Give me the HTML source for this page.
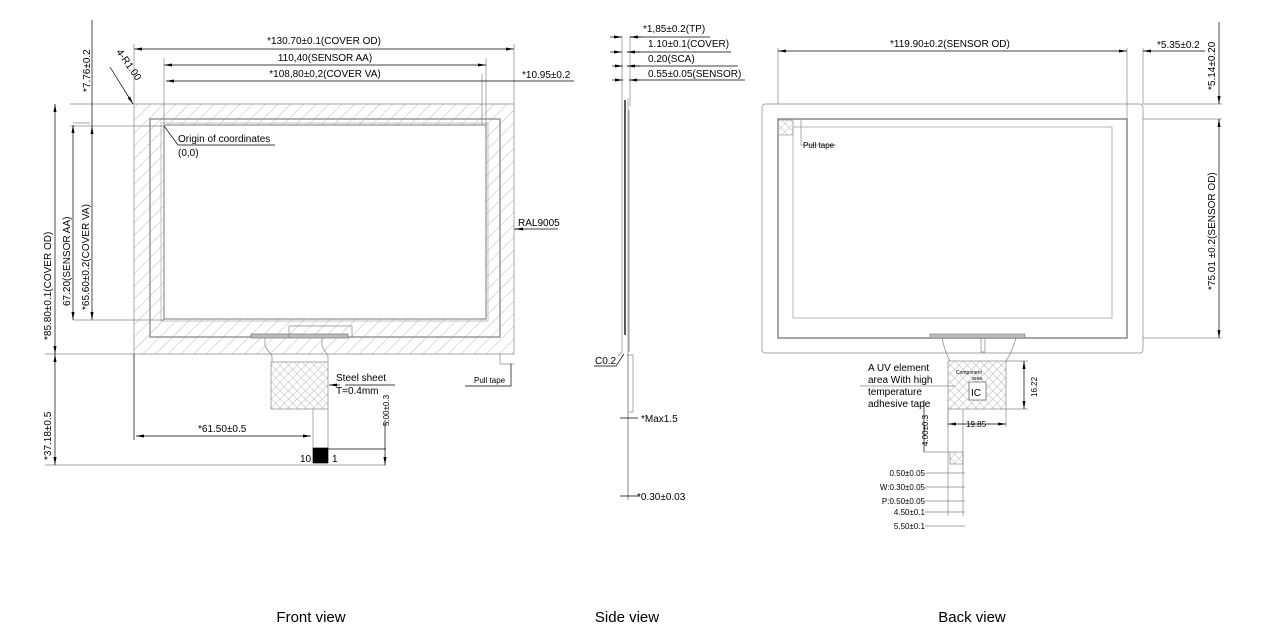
<!DOCTYPE html>
<html><head><meta charset="utf-8"><style>
html,body{margin:0;padding:0;background:#fff;}
svg{display:block;font-family:"Liberation Sans",Arial,sans-serif;}
</style></head><body>
<svg width="1281" height="644" viewBox="0 0 1281 644" xmlns="http://www.w3.org/2000/svg">
<defs>
<pattern id="hatch" width="9" height="9" patternUnits="userSpaceOnUse" patternTransform="rotate(45)">
<line x1="0" y1="0" x2="0" y2="9" stroke="#aaa" stroke-width="0.8"/></pattern>
<pattern id="xh" width="6" height="6" patternUnits="userSpaceOnUse" patternTransform="rotate(45)">
<line x1="0" y1="0" x2="0" y2="6" stroke="#999" stroke-width="0.7"/><line x1="0" y1="0" x2="6" y2="0" stroke="#999" stroke-width="0.7"/></pattern>
<marker id="a" markerWidth="8" markerHeight="6" refX="8" refY="3" orient="auto-start-reverse" markerUnits="userSpaceOnUse"><path d="M0,1.5 L8,3 L0,4.5z" fill="#000"/></marker>
</defs>
<g stroke="#000" stroke-width="0.7" fill="none">
<path d="M134,104 H514 V354 H134 Z M164,125 V319 H486 V125 Z" fill="url(#hatch)" fill-rule="evenodd" stroke="#888"/>
<rect x="150" y="119" width="350" height="218" stroke="#999" stroke-width="1.5"/>
<rect x="161" y="123" width="327" height="198" stroke="#aaa"/>
<rect x="164" y="125" width="322" height="194" stroke="#666"/>
<rect x="251" y="334" width="97" height="4" fill="#bbb" stroke="#777"/>
<path d="M265,338 V346 L272,356 V362 M322,338 V346 L328,356 V362 M289,338 V326 H352 V338" stroke="#888"/>
<path d="M500,354 V364 H514" stroke="#888"/>
<rect x="271" y="362" width="57" height="47" fill="url(#xh)" stroke="#888"/>
<path d="M313,409 V448 M328,409 V448" stroke="#888"/>
<rect x="313" y="448" width="15" height="15" fill="#000"/>
<path d="M134,104 V44 M514,104 V44 M164,125 V58 M486,125 V58 M482,125 V74 M514,74 V78" stroke="#888"/>
<line x1="134" y1="49" x2="514" y2="49" marker-start="url(#a)" marker-end="url(#a)"/>
<line x1="164" y1="65" x2="486" y2="65" marker-start="url(#a)" marker-end="url(#a)"/>
<line x1="166" y1="81" x2="482" y2="81" marker-start="url(#a)"/>
<line x1="482" y1="81" x2="574" y2="81"/>
<path d="M70,104 H134 M70,126 H164 M45,354 H134 M45,465 H386" stroke="#888"/>
<line x1="55" y1="104" x2="55" y2="354" marker-start="url(#a)" marker-end="url(#a)"/>
<line x1="73" y1="125" x2="73" y2="320" marker-start="url(#a)" marker-end="url(#a)"/>
<line x1="92" y1="126" x2="92" y2="320" marker-start="url(#a)" marker-end="url(#a)"/>
<path d="M73,320 H164 M73,123 H90" stroke="#888"/>
<line x1="92" y1="20" x2="92" y2="126"/>
<line x1="55" y1="354" x2="55" y2="465" marker-start="url(#a)" marker-end="url(#a)"/>
<line x1="134" y1="354" x2="134" y2="440"/>
<line x1="136" y1="436" x2="311" y2="436" marker-start="url(#a)" marker-end="url(#a)"/>
<line x1="385" y1="420" x2="385" y2="465" marker-end="url(#a)"/>
<path d="M328,449 H386"/>
<line x1="110" y1="67" x2="133" y2="104" marker-end="url(#a)"/>
<path d="M164,126 L178,145 H275"/>
<path d="M514,229 H558" /><line x1="521" y1="229" x2="515" y2="229" marker-end="url(#a)"/>
<path d="M345,385 H395"/><line x1="340" y1="385" x2="329" y2="385" marker-end="url(#a)"/>
<path d="M511,364 V386 H465"/>
<path d="M622,36 V106 M630,36 V106" stroke="#888"/>
<line x1="610" y1="37" x2="622" y2="37" marker-end="url(#a)"/><line x1="642" y1="37" x2="630" y2="37" marker-end="url(#a)"/><path d="M630,37 H710"/>
<line x1="610" y1="52" x2="622" y2="52" marker-end="url(#a)"/><line x1="640" y1="52" x2="627" y2="52" marker-end="url(#a)"/><path d="M627,52 H731"/>
<line x1="612" y1="66" x2="623" y2="66" marker-end="url(#a)"/><line x1="640" y1="66" x2="627" y2="66" marker-end="url(#a)"/><path d="M627,66 H738"/>
<line x1="612" y1="80" x2="623" y2="80" marker-end="url(#a)"/><line x1="640" y1="80" x2="629" y2="80" marker-end="url(#a)"/><path d="M629,80 H745"/>
<path d="M622,105 V352 L618,356" stroke="#888"/>
<line x1="625" y1="100" x2="625" y2="335" stroke-width="1.3"/>
<line x1="628" y1="98" x2="628" y2="355" stroke="#888"/>
<line x1="629" y1="110" x2="629" y2="352" stroke="#666"/>
<path d="M627,355 H633 V412 H629" stroke="#888"/>
<line x1="628" y1="355" x2="628" y2="500" stroke="#555"/>
<path d="M594,366 H616 L624,354"/>
<path d="M620,418 H638"/><path d="M620,496 H640"/>
<rect x="762" y="104" width="381" height="249" rx="3" stroke="#888"/>
<rect x="778" y="119" width="349" height="219" stroke="#888" stroke-width="1.5"/>
<rect x="793" y="127" width="319" height="191" stroke="#999"/>
<rect x="778" y="120" width="15" height="15" fill="url(#xh)" stroke="#999"/>
<path d="M801,120 V145 H836" stroke="#888"/>
<rect x="930" y="334" width="95" height="4" fill="#bbb" stroke="#888"/>
<path d="M942,338 Q945,352 950,361 M1016,338 Q1012,352 1006,361 M981,338 V352 H985 V338" stroke="#888"/>
<rect x="948" y="361" width="58" height="48" fill="url(#xh)" stroke="#888"/>
<rect x="969" y="382" width="17" height="18" fill="#fff" stroke="#555"/>
<path d="M948,409 V516 M963,409 V516" stroke="#888"/>
<rect x="950" y="452" width="13" height="12" fill="url(#xh)" stroke="#888"/>
<path d="M778,104 V48 M1127,119 V48 M1143,104 V48" stroke="#888"/>
<line x1="778" y1="51" x2="1127" y2="51" marker-start="url(#a)" marker-end="url(#a)"/>
<line x1="1158" y1="51" x2="1143" y2="51" marker-end="url(#a)"/><path d="M1158,51 H1205"/>
<path d="M1143,104 H1222 M1143,119 H1222 M1143,338 H1222" stroke="#888"/>
<line x1="1219" y1="22" x2="1219" y2="104" marker-end="url(#a)"/>
<line x1="1219" y1="119" x2="1219" y2="338" marker-start="url(#a)" marker-end="url(#a)"/>
<path d="M1006,361 H1028 M1006,409 H1028 M948,409 V427 M1006,409 V427" stroke="#888"/>
<line x1="1024" y1="361" x2="1024" y2="409" marker-start="url(#a)" marker-end="url(#a)"/>
<line x1="948" y1="424" x2="1006" y2="424" marker-start="url(#a)" marker-end="url(#a)"/>
<path d="M860,386 H955" stroke="#888"/>
<line x1="924" y1="400" x2="924" y2="452"/><path d="M924,452 H950" stroke="#888"/>
<path d="M925,473 H965 M925,487 H965 M925,501 H965 M925,512 H965 M925,526 H965" stroke="#888"/>
</g>
<g font-size="10" fill="#000">
<text x="324" y="44" text-anchor="middle">*130.70±0.1(COVER OD)</text>
<text x="325" y="61" text-anchor="middle">110,40(SENSOR AA)</text>
<text x="325" y="77" text-anchor="middle">*108,80±0,2(COVER VA)</text>
<text x="522" y="78">*10.95±0.2</text>
<text transform="translate(90,92) rotate(-90)">*7.76±0.2</text>
<text transform="translate(116,52) rotate(55)">4-R1.00</text>
<text x="178" y="142">Origin of coordinates</text>
<text x="178" y="156">(0,0)</text>
<text transform="translate(51,340) rotate(-90)">*85.80±0.1(COVER OD)</text>
<text transform="translate(70,306) rotate(-90)">67.20(SENSOR AA)</text>
<text transform="translate(89,310) rotate(-90)">*65.60±0.2(COVER VA)</text>
<text x="518" y="226">RAL9005</text>
<text x="336" y="381">Steel sheet</text>
<text x="336" y="394">T=0.4mm</text>
<text transform="translate(51,460) rotate(-90)">*37.18±0.5</text>
<text x="198" y="432">*61.50±0.5</text>
<text transform="translate(389,426) rotate(-90)" font-size="8">5.00±0.3</text>
<text x="300" y="462">10</text>
<text x="332" y="462">1</text>
<text x="474" y="383" font-size="8">Pull tape</text>
<text x="643" y="32">*1,85±0.2(TP)</text>
<text x="648" y="47">1.10±0.1(COVER)</text>
<text x="648" y="62">0.20(SCA)</text>
<text x="648" y="77">0.55±0.05(SENSOR)</text>
<text x="595" y="364">C0.2</text>
<text x="641" y="422">*Max1.5</text>
<text x="637" y="500">*0.30±0.03</text>
<text x="890" y="47">*119.90±0.2(SENSOR OD)</text>
<text x="1157" y="48">*5.35±0.2</text>
<text transform="translate(1215,90) rotate(-90)">*5.14±0.20</text>
<text transform="translate(1215,290) rotate(-90)">*75.01 ±0.2(SENSOR OD)</text>
<text x="803" y="148" font-size="8">Pull tape</text>
<text x="868" y="371">A UV element</text>
<text x="868" y="383">area With high</text>
<text x="868" y="395">temperature</text>
<text x="868" y="407">adhesive tape</text>
<text x="956" y="374" font-size="5">Component</text>
<text x="972" y="380" font-size="5">area</text>
<text x="971" y="396">IC</text>
<text transform="translate(1037,397) rotate(-90)" font-size="8">16.22</text>
<text x="966" y="427" font-size="8">19.85</text>
<text transform="translate(928,446) rotate(-90)" font-size="8">4.00±0.3</text>
<g font-size="8" text-anchor="end">
<text x="925" y="476">0.50±0.05</text>
<text x="925" y="490">W:0.30±0.05</text>
<text x="925" y="504">P:0.50±0.05</text>
<text x="925" y="515">4.50±0.1</text>
<text x="925" y="529">5.50±0.1</text>
</g>
</g>
<g font-size="15" fill="#000" text-anchor="middle">
<text x="311" y="622">Front view</text>
<text x="627" y="622">Side view</text>
<text x="972" y="622">Back view</text>
</g>
</svg>
</body></html>
